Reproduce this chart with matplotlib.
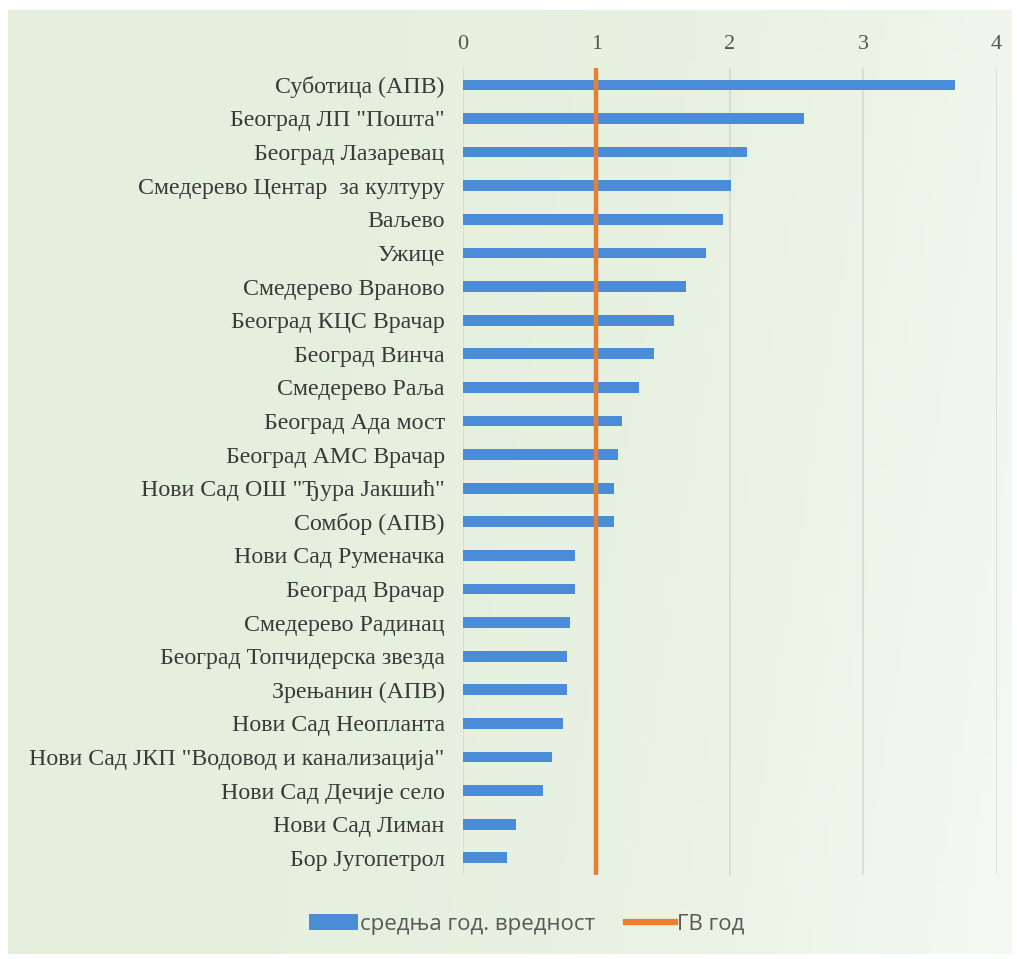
import matplotlib.pyplot as plt
import numpy as np
from matplotlib.colors import LinearSegmentedColormap
from matplotlib.lines import Line2D
from matplotlib.patches import Patch

# Станице (одозго надоле) и средње годишње вредности
stations = [
    'Суботица (АПВ)', 'Београд ЛП "Пошта"', 'Београд Лазаревац',
    'Смедерево Центар  за културу', 'Ваљево', 'Ужице', 'Смедерево Враново',
    'Београд КЦС Врачар', 'Београд Винча', 'Смедерево Раља', 'Београд Ада мост',
    'Београд АМС Врачар', 'Нови Сад ОШ "Ђура Јакшић"', 'Сомбор (АПВ)',
    'Нови Сад Руменачка', 'Београд Врачар', 'Смедерево Радинац',
    'Београд Топчидерска звезда', 'Зрењанин (АПВ)', 'Нови Сад Неопланта',
    'Нови Сад ЈКП "Водовод и канализација"', 'Нови Сад Дечије село',
    'Нови Сад Лиман', 'Бор Југопетрол',
]
mean_values = [3.69, 2.56, 2.13, 2.01, 1.95, 1.82, 1.67, 1.58, 1.43, 1.32,
               1.19, 1.16, 1.13, 1.13, 0.84, 0.84, 0.80, 0.78, 0.78, 0.75,
               0.67, 0.60, 0.40, 0.33]
limit_value = 1.0
xticks = [0, 1, 2, 3, 4]

bar_color = '#4A8CD8'
line_color = '#ED7D31'

fig = plt.figure(figsize=(10.17, 9.59), dpi=100)

# позадина са благим зеленим преливом
bg = fig.add_axes([0.008, 0.005, 0.987, 0.985])
cmap = LinearSegmentedColormap.from_list('bg', ['#E4EFDD', '#EAF3E4', '#F5F9F3'])
xx, yy = np.meshgrid(np.linspace(0, 1, 200), np.linspace(0, 1, 200))
grad = 0.75 * xx ** 2 + 0.25 * yy * xx
bg.imshow(grad, cmap=cmap, aspect='auto', extent=[0, 1, 0, 1], origin='upper')
bg.set_axis_off()

ax = fig.add_axes([0.455, 0.088, 0.525, 0.841])
ax.patch.set_alpha(0)

y = np.arange(len(stations))
ax.barh(y, mean_values, height=0.32, color=bar_color, zorder=2)
ax.axvline(limit_value, color=line_color, linewidth=3.2, zorder=3)

ax.set_ylim(len(stations) - 0.5, -0.5)
ax.set_xlim(0, 4)
ax.set_yticks(y)
ax.set_yticklabels(stations, family='Liberation Serif', fontsize=17.2, color='#3A3A3A')
ax.set_xticks(xticks)
ax.set_xticklabels([str(t) for t in xticks], family='Liberation Serif',
                   fontsize=16, color='#555555')
ax.xaxis.tick_top()
ax.tick_params(axis='both', length=0)
ax.tick_params(axis='x', pad=10)
ax.tick_params(axis='y', pad=13)

ax.grid(axis='x', color='#D6DAD3', linewidth=1.2, zorder=0)
for s in ax.spines.values():
    s.set_visible(False)

handles = [Patch(facecolor=bar_color, edgecolor='none'),
           Line2D([0], [0], color=line_color, linewidth=4.5)]
fig.legend(handles, ['средња год. вредност', 'ГВ год'], loc='center',
           bbox_to_anchor=(0.518, 0.036), ncol=2, frameon=False,
           prop={'family': 'Open Sans', 'size': 16}, labelcolor='#595959',
           handlelength=2.2, handletextpad=0.1, columnspacing=1.4)

plt.savefig('out.png', dpi=100, facecolor='white')
